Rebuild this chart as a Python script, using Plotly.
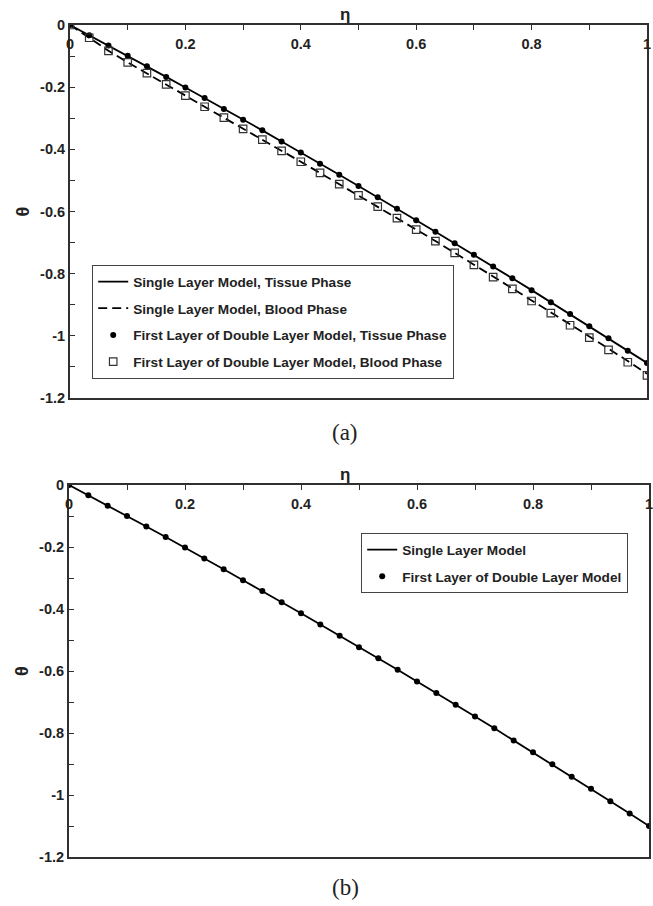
import plotly.graph_objects as go

# ---------------- data ----------------
eta = [i / 30 for i in range(31)]

# panel (a)
theta_tissue_single = [0, -0.033, -0.066, -0.099, -0.133, -0.167, -0.201, -0.235, -0.270, -0.305,
                       -0.339, -0.375, -0.410, -0.446, -0.482, -0.518, -0.554, -0.591, -0.628, -0.665,
                       -0.702, -0.739, -0.777, -0.815, -0.853, -0.892, -0.930, -0.969, -1.008, -1.048, -1.087]
theta_blood_single = [0, -0.041, -0.083, -0.120, -0.155, -0.191, -0.227, -0.263, -0.298, -0.334,
                      -0.369, -0.405, -0.440, -0.476, -0.512, -0.548, -0.584, -0.621, -0.658, -0.695,
                      -0.732, -0.771, -0.809, -0.847, -0.885, -0.924, -0.963, -1.002, -1.041, -1.081, -1.122]
theta_tissue_double = list(theta_tissue_single)
theta_blood_double = [0, -0.041, -0.083, -0.120, -0.155, -0.191, -0.227, -0.263, -0.298, -0.334,
                      -0.369, -0.405, -0.440, -0.476, -0.512, -0.548, -0.584, -0.621, -0.658, -0.695,
                      -0.733, -0.772, -0.811, -0.849, -0.888, -0.927, -0.966, -1.006, -1.045, -1.085, -1.127]

# panel (b)
theta_single_b = [0, -0.033, -0.067, -0.100, -0.134, -0.168, -0.202, -0.237, -0.272, -0.307,
                  -0.342, -0.378, -0.414, -0.450, -0.486, -0.523, -0.559, -0.596, -0.634, -0.671,
                  -0.709, -0.747, -0.785, -0.824, -0.862, -0.901, -0.941, -0.980, -1.020, -1.060, -1.100]
theta_double_b = list(theta_single_b)

x_ticks = [0, 0.2, 0.4, 0.6, 0.8, 1]
x_ticktext = ["0", "0.2", "0.4", "0.6", "0.8", "1"]
y_ticks = [0, -0.2, -0.4, -0.6, -0.8, -1, -1.2]
y_ticktext = ["0", "-0.2", "-0.4", "-0.6", "-0.8", "-1", "-1.2"]

names_a = ["Single Layer Model, Tissue Phase", "Single Layer Model, Blood Phase",
           "First Layer of Double Layer Model, Tissue Phase", "First Layer of Double Layer Model, Blood Phase"]
names_b = ["Single Layer Model", "First Layer of Double Layer Model"]

# ---------------- figure ----------------
W, H = 653, 906
AX = "#303030"
FONT = "Liberation Sans"


def xp(X):
    return X / W


def yp(Y):
    return 1 - Y / H


fig = go.Figure()

fig.add_trace(go.Scatter(x=eta, y=theta_tissue_single, mode="lines", name=names_a[0],
                         line=dict(color="black", width=1.8), xaxis="x", yaxis="y",
                         legend="legend", legendgroup="a1"))
fig.add_trace(go.Scatter(x=eta, y=theta_blood_single, mode="lines", name=names_a[1],
                         line=dict(color="black", width=1.8, dash="9px,5px"), xaxis="x", yaxis="y",
                         legend="legend", legendgroup="a2"))
fig.add_trace(go.Scatter(x=eta, y=theta_tissue_double, mode="markers", name=names_a[2],
                         marker=dict(symbol="circle", size=6, color="black"), xaxis="x", yaxis="y",
                         legend="legend", legendgroup="a3"))
fig.add_trace(go.Scatter(x=eta, y=theta_blood_double, mode="markers", name=names_a[3],
                         marker=dict(symbol="square-open", size=7.5, color="#333333", line=dict(width=1.2)),
                         xaxis="x", yaxis="y", legend="legend", legendgroup="a4"))

fig.add_trace(go.Scatter(x=eta, y=theta_single_b, mode="lines", name=names_b[0],
                         line=dict(color="black", width=1.8), xaxis="x2", yaxis="y2",
                         legend="legend2", legendgroup="b1"))
fig.add_trace(go.Scatter(x=eta, y=theta_double_b, mode="markers", name=names_b[1],
                         marker=dict(symbol="circle", size=6, color="black"), xaxis="x2", yaxis="y2",
                         legend="legend2", legendgroup="b2"))

tickfont = dict(family=FONT, size=14.5, color="#222222", weight="bold")


def xaxis(domain, anchor):
    return dict(domain=domain, anchor=anchor, range=[0, 1], side="top",
                tickvals=x_ticks, ticktext=x_ticktext, ticks="inside", ticklen=5,
                tickcolor=AX, tickwidth=1.3,
                minor=dict(dtick=0.1, ticks="inside", ticklen=5, tickcolor=AX, tickwidth=1.3, showgrid=False),
                ticklabelposition="inside", ticklabeloverflow="allow", ticklabelstandoff=9,
                tickfont=tickfont, showline=True, linecolor=AX, linewidth=2, mirror=True,
                showgrid=False, zeroline=False, automargin=False)


def yaxis(domain, anchor):
    return dict(domain=domain, anchor=anchor, range=[-1.2, 0],
                tickvals=y_ticks, ticktext=y_ticktext, ticks="inside", ticklen=5,
                tickcolor=AX, tickwidth=1.3,
                minor=dict(dtick=0.1, ticks="inside", ticklen=5, tickcolor=AX, tickwidth=1.3, showgrid=False),
                tickfont=tickfont, showline=True, linecolor=AX, linewidth=2, mirror=True,
                showgrid=False, zeroline=False, automargin=False,
                title=dict(text="θ", font=dict(family=FONT, size=18, color="#222222", weight="bold"),
                           standoff=6))


legfont = dict(family=FONT, size=13.6, color="#222222", weight="bold")
title_font = dict(family=FONT, size=17, color="#222222", weight="bold")
cap_font = dict(family="Liberation Serif", size=23, color="#222222")

fig.update_layout(
    width=W, height=H,
    margin=dict(l=0, r=0, t=0, b=0),
    paper_bgcolor="white", plot_bgcolor="white",
    xaxis=xaxis([xp(70), xp(647)], "y"),
    yaxis=yaxis([yp(398), yp(25)], "x"),
    xaxis2=xaxis([xp(69), xp(649)], "y2"),
    yaxis2=yaxis([yp(857), yp(485)], "x2"),
    legend=dict(x=xp(92), y=yp(265), xanchor="left", yanchor="top",
                bgcolor="white", bordercolor="#444444", borderwidth=1.2,
                font=legfont, tracegroupgap=6, itemwidth=30),
    legend2=dict(x=xp(361), y=yp(533), xanchor="left", yanchor="top",
                 bgcolor="white", bordercolor="#444444", borderwidth=1.2,
                 font=legfont, tracegroupgap=6, itemwidth=30),
    showlegend=True,
    annotations=[
        dict(text="η", x=xp(345), y=yp(15), xref="paper", yref="paper", showarrow=False,
             font=title_font, xanchor="center", yanchor="middle"),
        dict(text="η", x=xp(345), y=yp(474), xref="paper", yref="paper", showarrow=False,
             font=title_font, xanchor="center", yanchor="middle"),
        dict(text="(a)", x=xp(345), y=yp(432), xref="paper", yref="paper", showarrow=False,
             font=cap_font, xanchor="center", yanchor="middle"),
        dict(text="(b)", x=xp(345), y=yp(887), xref="paper", yref="paper", showarrow=False,
             font=cap_font, xanchor="center", yanchor="middle"),
    ],
)

# remove the default 8px page margin so the 653x906 figure fills the window exactly
fig.write_html("out.html", config={"displayModeBar": False},
               post_script="document.body.style.margin='0';document.body.style.overflow='hidden';")
